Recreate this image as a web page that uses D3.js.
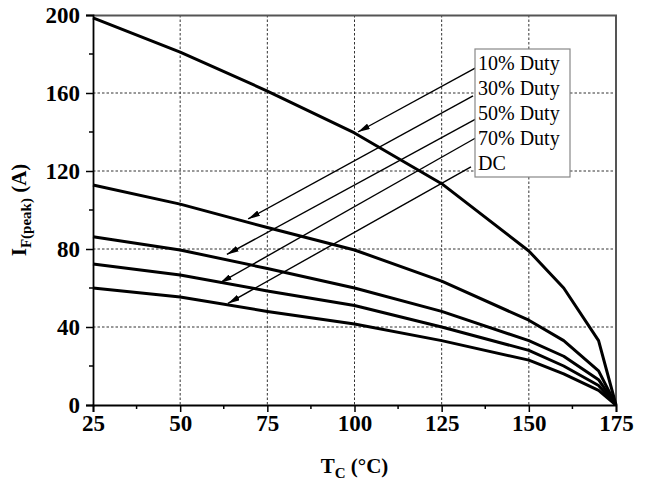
<!DOCTYPE html>
<html>
<head>
<meta charset="utf-8">
<script src="https://cdn.jsdelivr.net/npm/d3@7"></script>
<style>
  body { margin: 0; background: #fff; }
  svg { display: block; }
</style>
</head>
<body>
<div id="wrapper"></div>
<script>
// data
const temps = [25, 50, 75, 100, 125, 150, 160, 170, 175]
const duty10 = [198.5, 181, 161, 139.5, 113.5, 79, 60, 33, 0]
const duty30 = [112.8, 103, 91, 79.5, 63.5, 43.5, 33, 17.5, 0]
const duty50 = [86.3, 79.5, 70, 60, 48, 33, 25, 13, 0]
const duty70 = [72.3, 66.7, 58.5, 51, 40, 28, 20, 10, 0]
const dutyDC = [60, 55.4, 48, 41.5, 33, 23, 16, 7.5, 0]
const legendNames = ["10% Duty", "30% Duty", "50% Duty", "70% Duty", "DC"]
const xTicks = [25, 50, 75, 100, 125, 150, 175]
const yTicks = [0, 40, 80, 120, 160, 200]

// arrow start (at legend) and tip (on curve), in data units
const arrowFrom = [[134.6, 172.7], [134.0, 158.5], [134.6, 146.5], [134.6, 136.8], [133.4, 122.1]]
const arrowTo = [[101.0, 140.0], [69.5, 95.4], [63.4, 77.2], [61.4, 62.6], [63.7, 52.1]]

const series = [duty10, duty30, duty50, duty70, dutyDC]

function drawChart() {
  let dim = {
    width: 651,
    height: 488,
    margin: { top: 15, right: 35, bottom: 83, left: 93 },
  }
  dim.bound_width = dim.width - dim.margin.left - dim.margin.right
  dim.bound_height = dim.height - dim.margin.top - dim.margin.bottom

  const wrapper = d3.select("#wrapper")
    .append("svg")
    .attr("width", dim.width)
    .attr("height", dim.height)
    .style("font-family", "'Liberation Serif', 'Times New Roman', serif")

  wrapper.append("rect")
    .attr("width", dim.width)
    .attr("height", dim.height)
    .attr("fill", "#fff")

  const chart = wrapper.append("g")
    .attr("transform", `translate(${dim.margin.left},${dim.margin.top})`)

  const x_scale = d3.scaleLinear()
    .domain([25, 175])
    .range([0, dim.bound_width])
  const y_scale = d3.scaleLinear()
    .domain([0, 200])
    .range([dim.bound_height, 0])

  // grid
  const grid = chart.append("g")
    .attr("stroke", "#333")
    .attr("stroke-width", 1)
    .attr("stroke-dasharray", "2.5,2")
  grid.selectAll(".vgrid")
    .data(xTicks.slice(1, -1))
    .join("line")
    .attr("x1", d => x_scale(d)).attr("x2", d => x_scale(d))
    .attr("y1", 0).attr("y2", dim.bound_height)
  grid.selectAll(".hgrid")
    .data(yTicks.slice(1, -1))
    .join("line")
    .attr("y1", d => y_scale(d)).attr("y2", d => y_scale(d))
    .attr("x1", 0).attr("x2", dim.bound_width)

  // top and right frame
  chart.append("path")
    .attr("d", `M0,0.5H${dim.bound_width}V${dim.bound_height}`)
    .attr("fill", "none")
    .attr("stroke", "#555")
    .attr("stroke-width", 2)

  // axes
  const minorX = d3.range(37.5, 175, 25)
  const minorY = d3.range(20, 200, 40)

  const xAxis = chart.append("g")
    .attr("transform", `translate(0,${dim.bound_height})`)
    .call(d3.axisBottom(x_scale).tickValues(xTicks).tickSize(7).tickPadding(3))
  xAxis.selectAll(".minor")
    .data(minorX)
    .join("line")
    .attr("class", "minor")
    .attr("x1", d => x_scale(d)).attr("x2", d => x_scale(d))
    .attr("y1", 0).attr("y2", 4)
    .attr("stroke", "#000")
    .attr("stroke-width", 1.5)

  const yAxis = chart.append("g")
    .call(d3.axisLeft(y_scale).tickValues(yTicks).tickSize(7).tickPadding(6))
  yAxis.selectAll(".minor")
    .data(minorY)
    .join("line")
    .attr("class", "minor")
    .attr("y1", d => y_scale(d)).attr("y2", d => y_scale(d))
    .attr("x1", 0).attr("x2", -4)
    .attr("stroke", "#000")
    .attr("stroke-width", 1.5)

  ;[xAxis, yAxis].forEach(a => {
    a.select(".domain").attr("stroke", "#000").attr("stroke-width", 1.8)
    a.selectAll(".tick line").attr("stroke", "#000").attr("stroke-width", 1.5)
    a.selectAll(".tick text")
      .attr("fill", "#000")
      .style("font-family", "'Liberation Serif', 'Times New Roman', serif")
      .style("font-size", "23px")
      .style("font-weight", "bold")
  })

  // curves
  const line = d3.line()
    .x((d, i) => x_scale(temps[i]))
    .y(d => y_scale(d))
  chart.selectAll(".curve")
    .data(series)
    .join("path")
    .attr("class", "curve")
    .attr("d", line)
    .attr("fill", "none")
    .attr("stroke", "#000")
    .attr("stroke-width", 3)
    .attr("stroke-linejoin", "round")

  // legend box
  const lgX = 475, lgY = 49
  const legend = wrapper.append("g")
  legend.append("rect")
    .attr("x", lgX).attr("y", lgY)
    .attr("width", 95).attr("height", 128)
    .attr("fill", "#fff")
    .attr("stroke", "#888")
    .attr("stroke-width", 1.2)
  legend.selectAll("text")
    .data(legendNames)
    .join("text")
    .attr("x", lgX + 3)
    .attr("y", (d, i) => lgY + 21 + i * 25)
    .style("font-size", "20px")
    .attr("fill", "#000")
    .text(d => d)

  // arrows
  wrapper.append("defs").append("marker")
    .attr("id", "arrow")
    .attr("viewBox", "0 0 12 6")
    .attr("refX", 12).attr("refY", 3)
    .attr("markerWidth", 12).attr("markerHeight", 6)
    .attr("markerUnits", "userSpaceOnUse")
    .attr("orient", "auto")
    .append("path")
    .attr("d", "M0,0L12,3L0,6Z")
    .attr("fill", "#000")

  chart.selectAll(".arrow")
    .data(arrowFrom)
    .join("line")
    .attr("class", "arrow")
    .attr("x1", d => x_scale(d[0])).attr("y1", d => y_scale(d[1]))
    .attr("x2", (d, i) => x_scale(arrowTo[i][0]))
    .attr("y2", (d, i) => y_scale(arrowTo[i][1]))
    .attr("stroke", "#000")
    .attr("stroke-width", 1.4)
    .attr("marker-end", "url(#arrow)")

  // axis titles
  const xt = wrapper.append("text")
    .attr("x", dim.margin.left + dim.bound_width / 2)
    .attr("y", 473)
    .attr("text-anchor", "middle")
    .style("font-size", "21px")
    .style("font-weight", "bold")
  xt.append("tspan").text("T")
  xt.append("tspan").attr("dy", 5).style("font-size", "15px").text("C")
  xt.append("tspan").attr("dy", -5).text(" (°C)")

  const yt = wrapper.append("text")
    .attr("transform", `translate(26,${dim.margin.top + dim.bound_height / 2}) rotate(-90)`)
    .attr("text-anchor", "middle")
    .style("font-size", "21px")
    .style("font-weight", "bold")
  yt.append("tspan").text("I")
  yt.append("tspan").attr("dy", 5).style("font-size", "15px").text("F(peak)")
  yt.append("tspan").attr("dy", -5).text(" (A)")
}
drawChart()
</script>
</body>
</html>
